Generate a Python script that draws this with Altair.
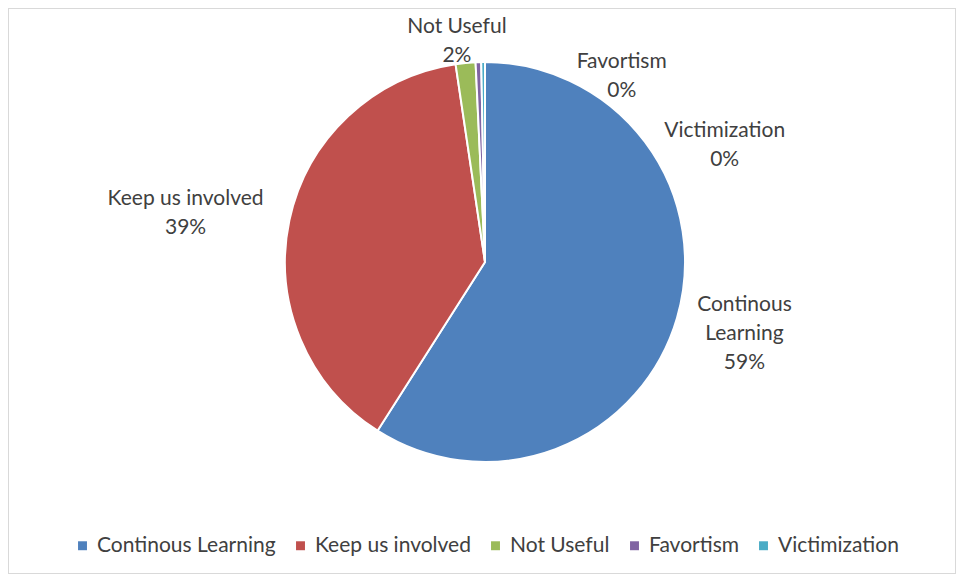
import math
import altair as alt
import pandas as pd

categories = ["Continous Learning", "Keep us involved", "Not Useful", "Favortism", "Victimization"]
values = [59.0, 38.6, 1.6, 0.45, 0.3]
colors = ["#4F81BD", "#C0504D", "#9BBB59", "#8064A2", "#4BACC6"]
label_lines = ["Continous\nLearning", "Keep us involved", "Not Useful", "Favortism", "Victimization"]

# label layout: position of the first text line (degrees clockwise from 12 o'clock, pixel radius)
label_angle_deg = [99.4, 281.9, 353.2, 34.4, 61.4]
label_radius = [263, 306, 237, 242, 273]

total = sum(values)
df = pd.DataFrame({
    "category": categories,
    "value": values,
    "order": list(range(len(categories))),
    "label": [f"{l}\n{round(v / total * 100)}%" for l, v in zip(label_lines, values)],
    "lab_theta": [math.radians(a) for a in label_angle_deg],
    "lab_r": label_radius,
})

W, H = 948, 566
CX, CY = 477, 254
FONT = "Lato"
FS = 21

color = alt.Color(
    "category:N",
    scale=alt.Scale(domain=categories, range=colors),
    sort=categories,
    legend=alt.Legend(
        title=None, orient="none", direction="horizontal", columns=5,
        legendX=64, legendY=527, symbolType="square", symbolSize=80,
        symbolStrokeWidth=0, labelFont=FONT, labelFontSize=FS,
        labelColor="#404040", columnPadding=14, labelLimit=300,
    ),
)

pie = alt.Chart(df).mark_arc(outerRadius=200, stroke="white", strokeWidth=2).encode(
    theta=alt.Theta("value:Q"),
    color=color,
    order=alt.Order("order:Q"),
    x=alt.value(CX),
    y=alt.value(CY),
)

labels = alt.Chart(df).mark_text(
    font=FONT, fontSize=FS, color="#404040", lineBreak="\n", lineHeight=29,
    align="center", baseline="middle",
).encode(
    theta=alt.Theta("lab_theta:Q", scale=None, stack=None),
    radius=alt.Radius("lab_r:Q", scale=None),
    text="label:N",
    x=alt.value(CX),
    y=alt.value(CY),
)

chart = alt.layer(pie, labels).properties(
    width=W, height=H, autosize=alt.AutoSizeParams(type="none"), padding=0,
    background="white",
).configure_view(stroke="#d9d9d9", strokeWidth=2)

chart.save("out.html", embed_options={"renderer": "svg", "actions": False})
